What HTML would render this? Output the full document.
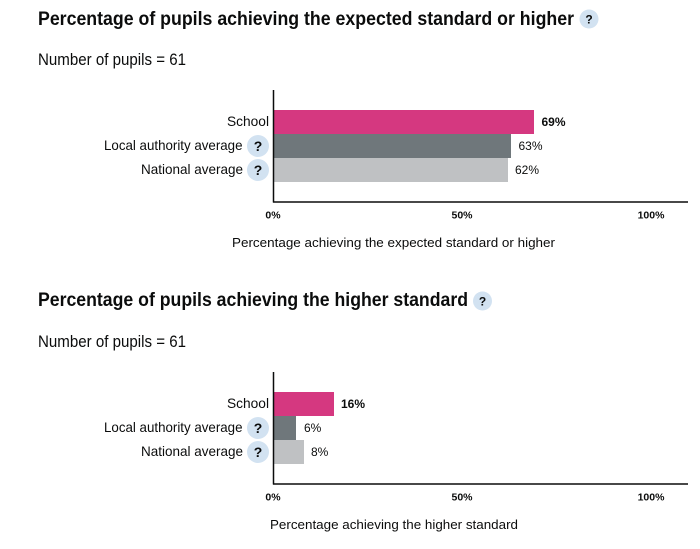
<!DOCTYPE html>
<html><head><meta charset="utf-8">
<style>
html,body{margin:0;padding:0;background:#fff;}
svg{display:block;font-family:"Liberation Sans",Arial,sans-serif;}
</style></head>
<body>
<svg width="700" height="549" viewBox="0 0 700 549" xmlns="http://www.w3.org/2000/svg">
<rect width="700" height="549" fill="#fff"/>

<!-- Chart 1 -->
<text x="38" y="25" font-size="19" font-weight="bold" fill="#0b0c0c" textLength="536" lengthAdjust="spacingAndGlyphs">Percentage of pupils achieving the expected standard or higher</text>
<circle cx="589" cy="19" r="9.5" fill="#d2e2f1"/>
<text x="589" y="23.5" font-size="12" font-weight="bold" fill="#0b0c0c" text-anchor="middle">?</text>
<text x="38" y="65" font-size="16.5" fill="#0b0c0c" textLength="148" lengthAdjust="spacingAndGlyphs">Number of pupils = 61</text>

<rect x="274" y="110" width="260" height="24" fill="#d53880"/>
<rect x="274" y="134" width="237" height="24" fill="#6f777b"/>
<rect x="274" y="158" width="234" height="24" fill="#bfc1c3"/>

<line x1="273.5" y1="90" x2="273.5" y2="202.5" stroke="#0b0c0c" stroke-width="1.5"/>
<line x1="273" y1="202" x2="688" y2="202" stroke="#0b0c0c" stroke-width="1.5"/>

<text x="227" y="126" font-size="14" fill="#0b0c0c" textLength="42" lengthAdjust="spacingAndGlyphs">School</text>
<text x="104" y="150" font-size="14" fill="#0b0c0c" textLength="138.5" lengthAdjust="spacingAndGlyphs">Local authority average</text>
<circle cx="258" cy="146" r="11" fill="#d2e2f1"/>
<text x="258" y="151" font-size="14" font-weight="bold" fill="#0b0c0c" text-anchor="middle">?</text>
<text x="141" y="174" font-size="14" fill="#0b0c0c" textLength="102" lengthAdjust="spacingAndGlyphs">National average</text>
<circle cx="258" cy="170" r="11" fill="#d2e2f1"/>
<text x="258" y="175" font-size="14" font-weight="bold" fill="#0b0c0c" text-anchor="middle">?</text>

<text x="541.5" y="126" font-size="12" font-weight="bold" fill="#0b0c0c">69%</text>
<text x="518.5" y="150" font-size="12" fill="#0b0c0c">63%</text>
<text x="515" y="174" font-size="12" fill="#0b0c0c">62%</text>

<text x="273" y="218.5" font-size="10.5" font-weight="bold" fill="#0b0c0c" text-anchor="middle">0%</text>
<text x="462" y="218.5" font-size="10.5" font-weight="bold" fill="#0b0c0c" text-anchor="middle">50%</text>
<text x="651" y="218.5" font-size="10.5" font-weight="bold" fill="#0b0c0c" text-anchor="middle">100%</text>

<text x="232" y="247" font-size="13" fill="#0b0c0c" textLength="323" lengthAdjust="spacingAndGlyphs">Percentage achieving the expected standard or higher</text>

<!-- Chart 2 -->
<text x="38" y="306" font-size="19" font-weight="bold" fill="#0b0c0c" textLength="430" lengthAdjust="spacingAndGlyphs">Percentage of pupils achieving the higher standard</text>
<circle cx="482.5" cy="301" r="9.5" fill="#d2e2f1"/>
<text x="482.5" y="305.5" font-size="12" font-weight="bold" fill="#0b0c0c" text-anchor="middle">?</text>
<text x="38" y="347" font-size="16.5" fill="#0b0c0c" textLength="148" lengthAdjust="spacingAndGlyphs">Number of pupils = 61</text>

<rect x="274" y="392" width="60" height="24" fill="#d53880"/>
<rect x="274" y="416" width="22" height="24" fill="#6f777b"/>
<rect x="274" y="440" width="30" height="24" fill="#bfc1c3"/>

<line x1="273.5" y1="372" x2="273.5" y2="484.5" stroke="#0b0c0c" stroke-width="1.5"/>
<line x1="273" y1="484" x2="688" y2="484" stroke="#0b0c0c" stroke-width="1.5"/>

<text x="227" y="408" font-size="14" fill="#0b0c0c" textLength="42" lengthAdjust="spacingAndGlyphs">School</text>
<text x="104" y="432" font-size="14" fill="#0b0c0c" textLength="138.5" lengthAdjust="spacingAndGlyphs">Local authority average</text>
<circle cx="258" cy="428" r="11" fill="#d2e2f1"/>
<text x="258" y="433" font-size="14" font-weight="bold" fill="#0b0c0c" text-anchor="middle">?</text>
<text x="141" y="456" font-size="14" fill="#0b0c0c" textLength="102" lengthAdjust="spacingAndGlyphs">National average</text>
<circle cx="258" cy="452" r="11" fill="#d2e2f1"/>
<text x="258" y="457" font-size="14" font-weight="bold" fill="#0b0c0c" text-anchor="middle">?</text>

<text x="341" y="408" font-size="12" font-weight="bold" fill="#0b0c0c">16%</text>
<text x="304" y="432" font-size="12" fill="#0b0c0c">6%</text>
<text x="311" y="456" font-size="12" fill="#0b0c0c">8%</text>

<text x="273" y="500.5" font-size="10.5" font-weight="bold" fill="#0b0c0c" text-anchor="middle">0%</text>
<text x="462" y="500.5" font-size="10.5" font-weight="bold" fill="#0b0c0c" text-anchor="middle">50%</text>
<text x="651" y="500.5" font-size="10.5" font-weight="bold" fill="#0b0c0c" text-anchor="middle">100%</text>

<text x="270" y="529" font-size="13" fill="#0b0c0c" textLength="248" lengthAdjust="spacingAndGlyphs">Percentage achieving the higher standard</text>
</svg>
</body></html>
